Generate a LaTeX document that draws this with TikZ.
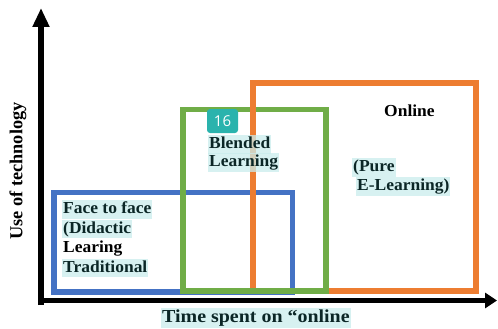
\documentclass[tikz,border=0pt]{standalone}
\usepackage{fontspec}
\setmainfont{Liberation Serif}
\newfontfamily\lblfont[FakeStretch=1.04]{Liberation Serif}
\newfontfamily\widefont[FakeStretch=1.09]{Liberation Serif}
\newfontfamily\badgefont{Open Sans}
\usetikzlibrary{arrows.meta}
\definecolor{hlc}{HTML}{C9ECEC}
\definecolor{txtc}{HTML}{0B2626}
\definecolor{bluec}{HTML}{4472C4}
\definecolor{greenc}{HTML}{70AD47}
\definecolor{orangec}{HTML}{ED7D31}
\definecolor{badgec}{HTML}{2AB3AD}
\tikzset{
  boxline/.style={line width=5.5pt},
  axisline/.style={line width=5.5pt, black},
  lbl/.style={anchor=north west, inner xsep=1pt, inner ysep=1pt, text=txtc,
    font=\lblfont\fontsize{16.8}{19}\selectfont\bfseries, text height=12.5pt, text depth=3.8pt},
  hl/.style={lbl, fill=hlc, fill opacity=0.75, text opacity=1},
}
\begin{document}
\begin{tikzpicture}[x=1pt,y=-1pt]
\useasboundingbox (0,0) rectangle (498,329);
% rectangles
\draw[boxline, bluec] (54,192.5) rectangle (292.5,292);
\draw[boxline, orangec] (253,83) rectangle (476,291);
\draw[boxline, greenc] (183,109.5) rectangle (326,291);
\draw[boxline, orangec] (253,100) -- (253,130);
% axes
\coordinate (o1) at (41,305);
\coordinate (ytip) at (41,8);
\coordinate (o2) at (38,300.5);
\coordinate (xtip) at (497,300.5);
\draw[axisline, -{Triangle[length=19pt,width=16pt]}] (o1) -- (ytip);
\draw[axisline, -{Triangle[length=12pt,width=15pt]}] (o2) -- (xtip);
% texts
\node[hl] (f1) at (62,200) {Face to face};
\node[hl] (f2) at (62,219.5) {(Didactic};
\node[lbl, text=black] (f3) at (62,239) {Learing};
\node[hl] (f4) at (62,258.5) {Traditional};
\node[hl] (b1) at (208,135) {Blended};
\node[hl] (b2) at (208,153) {Learning};
\node[lbl, text=black] (on) at (383,102.5) {Online};
\node[hl] (p1) at (352,158) {(Pure};
\node[hl] (p2) at (356,177) {E-Learning)};
\node[hl, font=\widefont\fontsize{18.3}{20}\selectfont\bfseries, text height=13.5pt, text depth=4pt] (tx) at (161,308) {Time spent on “online};
\node[lbl, anchor=center, text=black, rotate=90, font=\fontsize{18.3}{20}\selectfont\bfseries] (ty) at (18,171) {Use of technology};
% badge
\node[fill=badgec, rounded corners=3pt, minimum width=31pt, minimum height=24pt, inner sep=0pt,
  text=white, font=\badgefont\fontsize{15}{16}\selectfont] (badge) at (222.5,121) {16};
\end{tikzpicture}
\end{document}
